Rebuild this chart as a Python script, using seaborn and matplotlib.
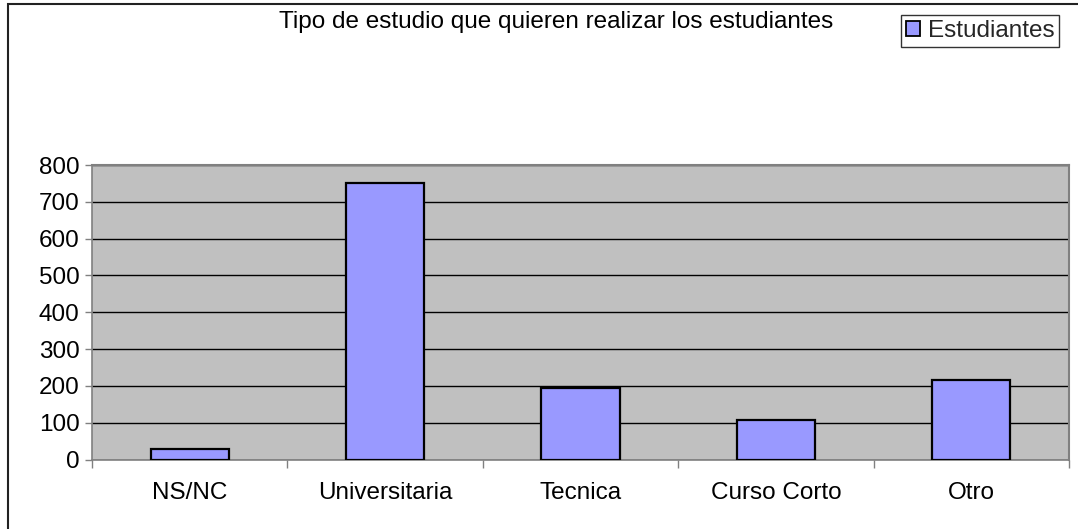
import matplotlib
matplotlib.use("Agg")
import matplotlib.pyplot as plt
import seaborn as sns
import pandas as pd
from matplotlib.patches import Rectangle, Patch
from matplotlib.ticker import MultipleLocator, FixedLocator

categories = ["NS/NC", "Universitaria", "Tecnica", "Curso Corto", "Otro"]
values = [28, 752, 195, 107, 216]
series_name = "Estudiantes"
title = "Tipo de estudio que quieren realizar los estudiantes"

df = pd.DataFrame({"cat": categories, "val": values})

sns.set_theme(style="white")
plt.rcParams["font.family"] = ["Liberation Sans", "DejaVu Sans"]

FS = 17.5
W, H = 1078, 529
fig = plt.figure(figsize=(W / 100, H / 100), dpi=100)
ax = fig.add_axes([92 / W, 1 - 459.5 / H, (1069 - 92) / W, (459.5 - 165) / H])

sns.barplot(data=df, x="cat", y="val", ax=ax, color="#9999FF", width=0.4,
            edgecolor="black", linewidth=1.6, saturation=1, zorder=3)

ax.set_facecolor("#C0C0C0")
ax.set_xlim(-0.5, len(categories) - 0.5)
ax.set_ylim(0, 800)
ax.yaxis.set_major_locator(MultipleLocator(100))
ax.grid(axis="y", color="black", linewidth=1, zorder=1)
ax.set_axisbelow(True)
ax.set_xlabel("")
ax.set_ylabel("")

for s in ["top", "right"]:
    ax.spines[s].set_color("#808080")
    ax.spines[s].set_linewidth(1.5)
for s in ["left", "bottom"]:
    ax.spines[s].set_color("#808080")
    ax.spines[s].set_linewidth(1.2)

ax.tick_params(axis="y", which="major", direction="out", length=5, width=1,
               color="#808080", labelsize=FS, labelcolor="black", pad=4, left=True)
ax.tick_params(axis="x", which="major", length=0, labelsize=FS,
               labelcolor="black", pad=16)
ax.xaxis.set_minor_locator(FixedLocator([i - 0.5 for i in range(len(categories) + 1)]))
ax.tick_params(axis="x", which="minor", direction="out", length=6, width=1,
               color="#808080", bottom=True)

fig.text(556 / W, 1 - 22 / H, title, ha="center", va="center", fontsize=FS,
         color="black")

leg = fig.legend(handles=[Patch(facecolor="#9999FF", edgecolor="black", linewidth=1.3,
                                label=series_name)],
                 loc="center", bbox_to_anchor=(980 / W, 1 - 31 / H),
                 fontsize=FS, frameon=True, fancybox=False, handlelength=0.6,
                 handleheight=0.6, handletextpad=0.3, borderpad=0.2,
                 borderaxespad=0)
leg.get_frame().set_edgecolor("black")
leg.get_frame().set_linewidth(1)

fig.patches.append(Rectangle((8 / W, -0.1), 1.2, 1.1 - 4 / H,
                             transform=fig.transFigure, fill=False,
                             edgecolor="#222222", linewidth=1.5))

fig.savefig("out.png", dpi=100, facecolor="white")
